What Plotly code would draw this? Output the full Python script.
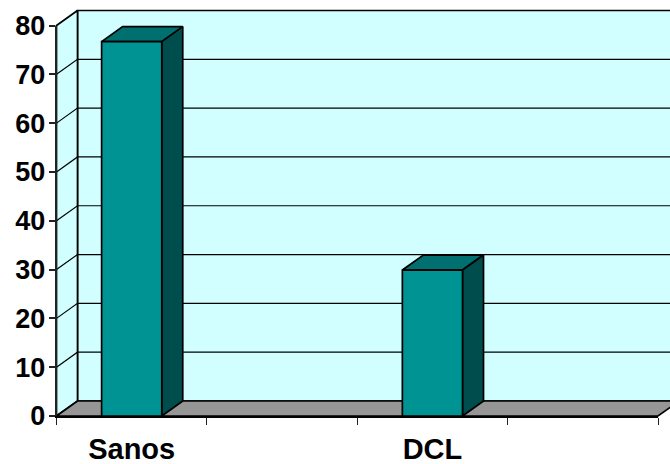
import plotly.graph_objects as go

# Chart data
categories = ["Sanos", " ", "DCL", "  "]
values = [76.7, None, 29.9, None]
y_ticks = [0, 10, 20, 30, 40, 50, 60, 70, 80]

# Canvas and the front plane of the box, in pixels
W, H = 670, 464
FRONT_L, FRONT_R, FRONT_B, FRONT_T = 56.5, 658, 416, 25.5
DEPTH_X, DEPTH_Y = 21, 15
BAR_WIDTH = 0.4

# Data units per pixel, shared by the front plane and the full-canvas layer
ux = len(categories) / (FRONT_R - FRONT_L)
uy = y_ticks[-1] / (FRONT_B - FRONT_T)
dx, dy = DEPTH_X * ux, DEPTH_Y * uy
x_lo, x_hi = -0.5, len(categories) - 0.5
y_lo, y_hi = y_ticks[0], y_ticks[-1]

WALL = "#D1FFFF"
FLOOR = "#969696"
FRONT = "#009393"
TOP = "#006F6F"
SIDE = "#004D4D"
INK = "#000000"


def poly(xs, ys, fill, line_width=1.7):
    return go.Scatter(
        x=xs, y=ys, mode="lines", fill="toself", fillcolor=fill,
        line=dict(color=INK, width=line_width), hoverinfo="skip",
        showlegend=False, xaxis="x", yaxis="y",
    )


traces = []

# Back wall, side wall and floor
traces.append(poly([x_lo + dx, x_hi + dx, x_hi + dx, x_lo + dx, x_lo + dx],
                   [y_lo + dy, y_lo + dy, y_hi + dy, y_hi + dy, y_lo + dy], WALL))
traces.append(poly([x_lo, x_lo + dx, x_lo + dx, x_lo, x_lo],
                   [y_lo, y_lo + dy, y_hi + dy, y_hi, y_lo], WALL))
traces.append(poly([x_lo, x_hi, x_hi + dx, x_lo + dx, x_lo],
                   [y_lo, y_lo, y_lo + dy, y_lo + dy, y_lo], FLOOR))

# Gridlines running along the side wall and the back wall
grid_x, grid_y = [], []
for t in y_ticks[1:-1]:
    grid_x += [x_lo, x_lo + dx, x_hi + dx, None]
    grid_y += [t, t + dy, t + dy, None]
traces.append(go.Scatter(x=grid_x, y=grid_y, mode="lines",
                         line=dict(color=INK, width=1.2), hoverinfo="skip",
                         showlegend=False, xaxis="x", yaxis="y"))

# Top and right faces of each column
for i, v in enumerate(values):
    if v is None:
        continue
    a, b = i - BAR_WIDTH / 2, i + BAR_WIDTH / 2
    traces.append(poly([a, b, b + dx, a + dx, a], [v, v, v + dy, v + dy, v], TOP))
    traces.append(poly([b, b + dx, b + dx, b, b], [0, dy, v + dy, v, 0], SIDE))

# Front faces of the columns
traces.append(go.Bar(
    x=categories, y=values, width=BAR_WIDTH, marker=dict(color=FRONT, line=dict(color=INK, width=1.7)),
    hoverinfo="skip", showlegend=False, xaxis="x2", yaxis="y2",
))

fig = go.Figure(traces)
fig.update_layout(
    width=W, height=H, margin=dict(l=0, r=0, t=0, b=0, autoexpand=False),
    paper_bgcolor="white", plot_bgcolor="rgba(0,0,0,0)",
    font=dict(family="Liberation Sans", color=INK),
    showlegend=False, barmode="overlay",
    # Full-canvas layer for the walls and the column depth faces
    xaxis=dict(domain=[0, 1], visible=False, fixedrange=True,
               range=[x_lo - FRONT_L * ux, x_hi + (W - FRONT_R) * ux]),
    yaxis=dict(domain=[0, 1], visible=False, fixedrange=True,
               range=[y_lo - (H - FRONT_B) * uy, y_hi + FRONT_T * uy]),
    # Front plane carrying the visible axes
    xaxis2=dict(domain=[FRONT_L / W, FRONT_R / W], anchor="y2",
                type="category", categoryorder="array", categoryarray=categories,
                range=[x_lo, x_hi], tickson="boundaries", ticks="outside", ticklen=7,
                tickwidth=1, tickcolor="#222222", showgrid=False, zeroline=False,
                showline=True, linecolor=INK, linewidth=2, ticklabelstandoff=6,
                tickfont=dict(size=29, family="Liberation Sans", weight="bold")),
    yaxis2=dict(domain=[(H - FRONT_B) / H, (H - FRONT_T) / H], anchor="x2",
                range=[y_lo, y_hi], tickvals=y_ticks, ticks="outside", ticklen=6,
                tickwidth=1.5, tickcolor="#222222", showgrid=False, zeroline=False,
                showline=True, linecolor="#222222", linewidth=1.5, ticklabelstandoff=-2,
                tickfont=dict(size=27, family="Liberation Sans", weight="bold")),
)

fig.write_html("out.html", config=dict(displayModeBar=False))
